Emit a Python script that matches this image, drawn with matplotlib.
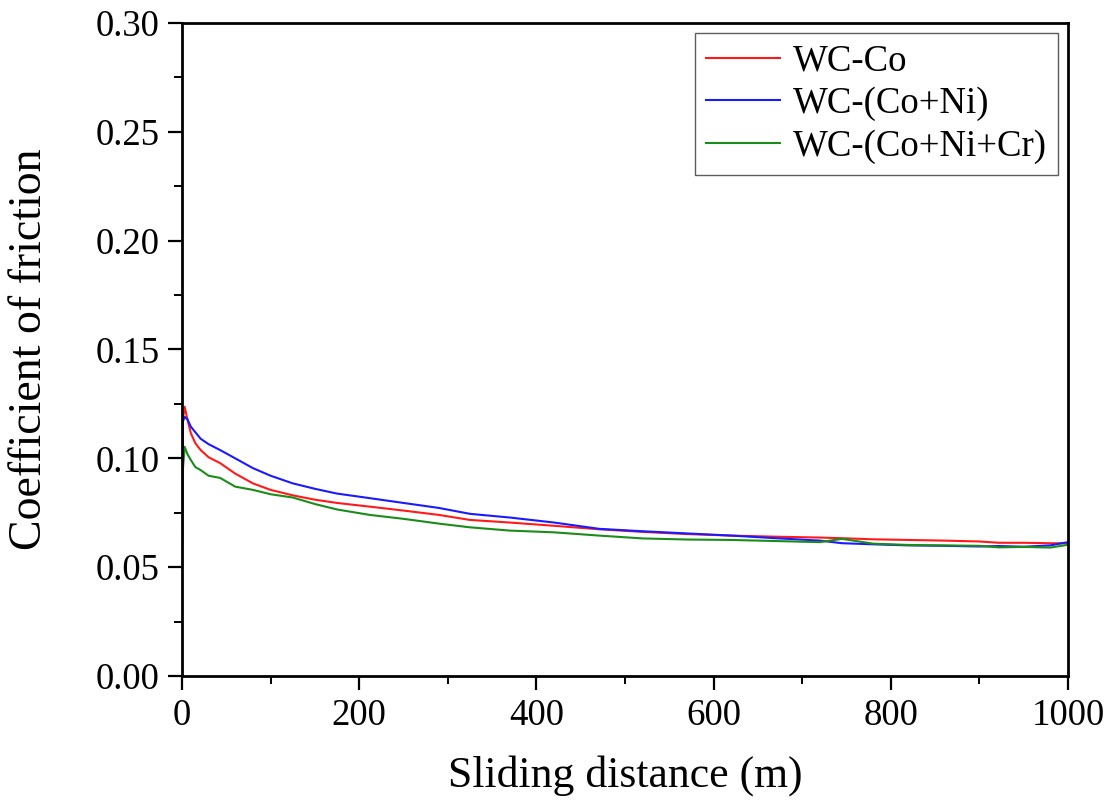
import matplotlib.pyplot as plt
from matplotlib.ticker import MultipleLocator

# sliding distance (m)
dist = [0, 1, 3, 6, 10, 15, 21, 30, 43, 60, 80, 100, 125, 150, 175, 212, 250,
        290, 325, 370, 420, 471, 520, 570, 620, 670, 720, 745, 780, 820, 860,
        900, 922, 950, 980, 1000]

cof_co = [0.060, 0.118, 0.1237, 0.118, 0.1115, 0.107, 0.1038, 0.1005, 0.0978,
          0.093, 0.0885, 0.0855, 0.0830, 0.0810, 0.0795, 0.0778, 0.0760,
          0.0740, 0.0717, 0.0705, 0.0690, 0.0674, 0.0662, 0.0652, 0.0645,
          0.0640, 0.0636, 0.0633, 0.0628, 0.0625, 0.0622, 0.0618, 0.0612,
          0.0612, 0.0610, 0.0610]

cof_coni = [0.060, 0.117, 0.119, 0.118, 0.1145, 0.112, 0.109, 0.1065, 0.1038,
            0.100, 0.0955, 0.0920, 0.0885, 0.0860, 0.0838, 0.0817, 0.0795,
            0.0772, 0.0745, 0.0728, 0.0705, 0.0676, 0.0665, 0.0655, 0.0645,
            0.0633, 0.0622, 0.0610, 0.0605, 0.0600, 0.0598, 0.0595, 0.0597,
            0.0594, 0.0600, 0.0615]

cof_conicr = [0.050, 0.095, 0.1053, 0.102, 0.0992, 0.096, 0.0946, 0.092,
              0.091, 0.087, 0.0855, 0.0835, 0.0820, 0.0790, 0.0765, 0.0740,
              0.0722, 0.0700, 0.0683, 0.0668, 0.0660, 0.0645, 0.0632, 0.0627,
              0.0625, 0.0620, 0.0615, 0.0630, 0.0608, 0.0602, 0.0600, 0.0598,
              0.0591, 0.0593, 0.0590, 0.0603]

series = [("WC-Co", cof_co, "#ff1a1a"),
          ("WC-(Co+Ni)", cof_coni, "#1a1aff"),
          ("WC-(Co+Ni+Cr)", cof_conicr, "#1a8c1a")]

plt.rcParams['font.family'] = ['Liberation Serif', 'DejaVu Serif']

fig = plt.figure(figsize=(11.14, 8.09), dpi=100)
ax = fig.add_axes([0.1634, 0.1644, 0.7953, 0.8072])

for name, vals, col in series:
    ax.plot(dist, vals, color=col, lw=1.5, label=name)

ax.set_xlim(0, 1000)
ax.set_ylim(0, 0.30)
ax.xaxis.set_major_locator(MultipleLocator(200))
ax.xaxis.set_minor_locator(MultipleLocator(100))
ax.yaxis.set_major_locator(MultipleLocator(0.05))
ax.yaxis.set_minor_locator(MultipleLocator(0.025))
ax.yaxis.set_major_formatter(lambda v, p: f"{v:.2f}")

for s in ax.spines.values():
    s.set_linewidth(2)
ax.tick_params(which='major', direction='out', length=10, width=1.6,
               labelsize=26.5, pad=6)
ax.tick_params(which='minor', direction='out', length=6, width=1.4)

ax.set_xlabel("Sliding distance (m)", fontsize=31.5, labelpad=16)
ax.set_ylabel("Coefficient of friction", fontsize=33, labelpad=32)

leg = ax.legend(loc='upper right', fontsize=26.5, frameon=True, fancybox=False,
                handlelength=2.0, handletextpad=0.35, borderpad=0.3,
                labelspacing=0.21, borderaxespad=0,
                bbox_to_anchor=(0.9887, 0.984))
leg.get_frame().set_edgecolor('#333333')
leg.get_frame().set_linewidth(1.0)

fig.savefig("out.png", dpi=100)
